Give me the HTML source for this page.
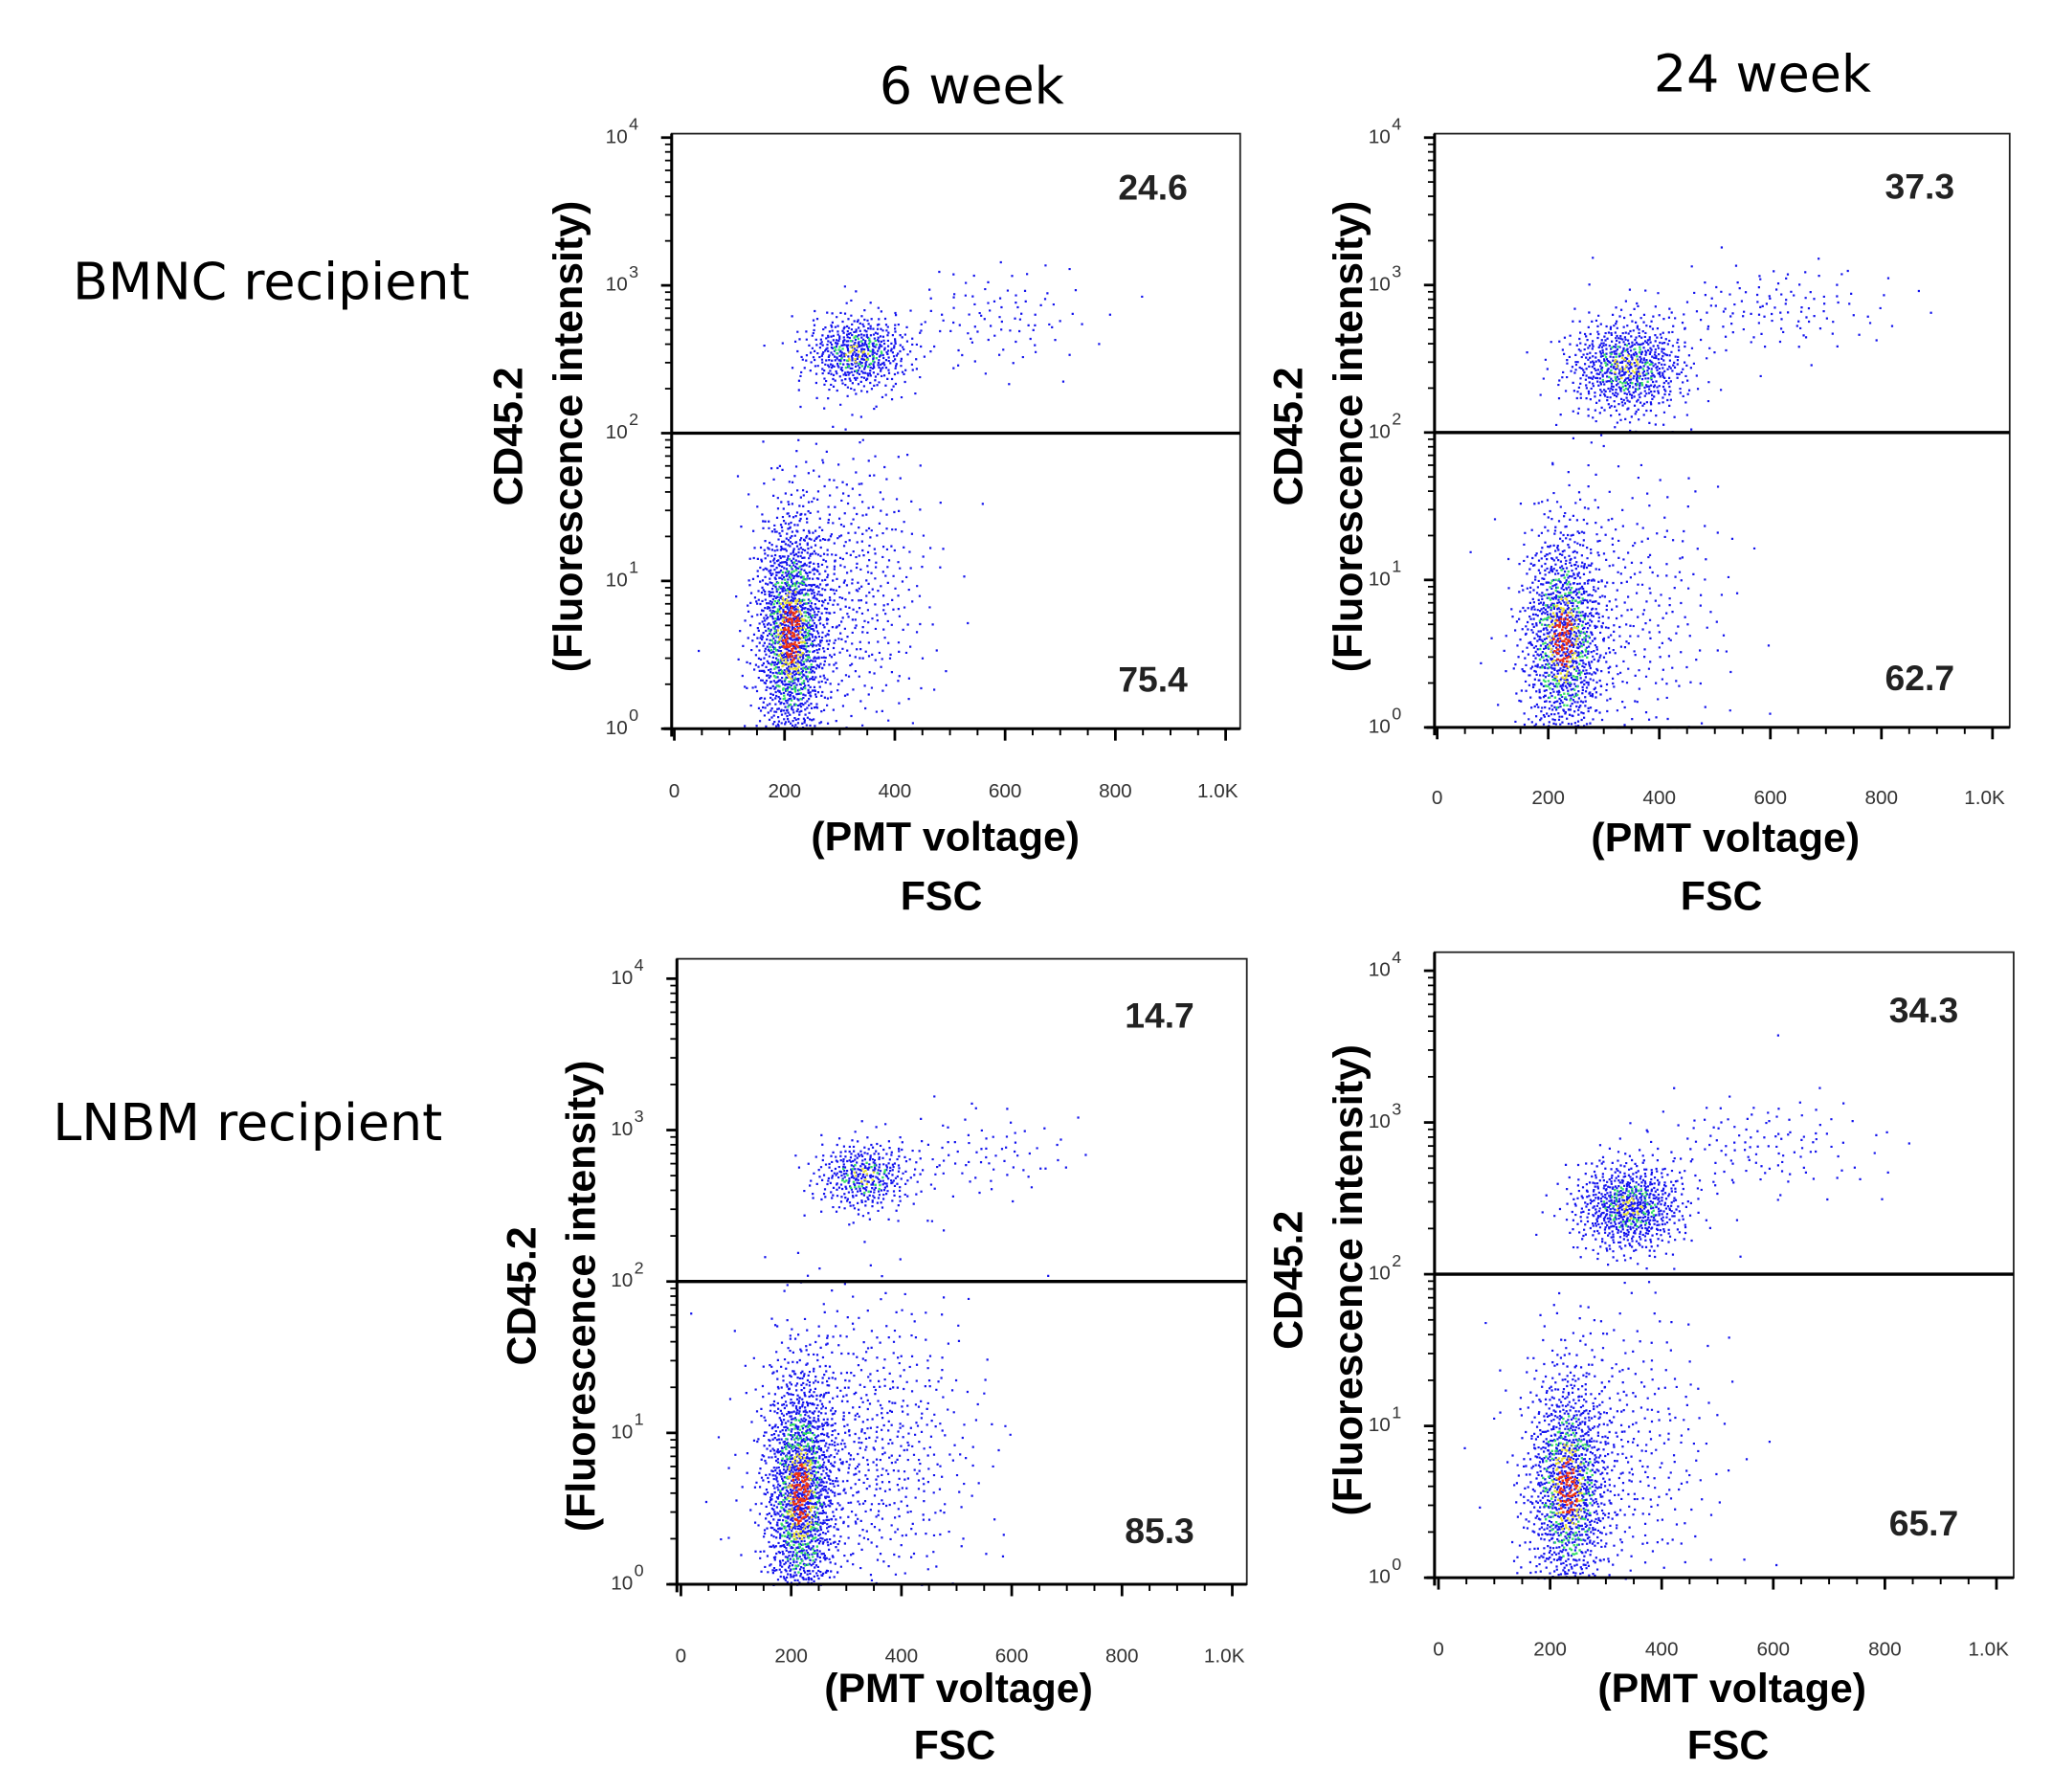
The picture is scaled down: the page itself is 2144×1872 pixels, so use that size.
<!DOCTYPE html>
<html><head><meta charset="utf-8">
<style>
html,body{margin:0;padding:0;background:#fff;}
svg{display:block;}
text{font-family:"Liberation Sans",Arial,sans-serif;}
.cal{font-family:"DejaVu Sans","Liberation Sans",sans-serif;}
</style></head>
<body>
<svg id="fig" width="2144" height="1872" viewBox="0 0 1552 1355" xmlns="http://www.w3.org/2000/svg">
  <rect x="0" y="0" width="1552" height="1355" fill="#fff"/>
  <text x="735" y="78" font-size="39" text-anchor="middle" class="cal">6 week</text>
  <text x="1333" y="69" font-size="39" text-anchor="middle" class="cal">24 week</text>
  <text x="55" y="226" font-size="39" class="cal">BMNC recipient</text>
  <text x="40" y="862" font-size="39" class="cal">LNBM recipient</text>
  <g id="panels"></g>
</svg>
<script>
// Axis ticks
const xTickValues = [0, 200, 400, 600, 800, 1000];
const xTickLabels = ["0", "200", "400", "600", "800", "1.0K"];
const yDecades = [0, 1, 2, 3, 4];
const gateValue = 100;

// Gate percentages per panel (upper, lower)
const upperPct = ["24.6", "37.3", "14.7", "34.3"];
const lowerPct = ["75.4", "62.7", "85.3", "65.7"];

// Population clusters per panel: FSC centre, FSC spread, log10 CD45.2 centre, log spread, count, heat level
const clusterPanel = [0,0,0,0, 1,1,1,1, 2,2,2,2, 3,3,3,3];
const clusterFsc   = [330,580,210,310, 340,600,225,330, 330,540,215,330, 340,570,230,320];
const clusterFscSd = [48,90,32,75, 55,110,36,95, 45,90,32,100, 50,110,36,90];
const clusterLog   = [2.55,2.78,0.65,0.95, 2.45,2.85,0.6,0.75, 2.7,2.85,0.6,0.9, 2.45,2.85,0.6,0.8];
const clusterLogSd = [0.13,0.18,0.4,0.5, 0.17,0.15,0.38,0.5, 0.12,0.15,0.42,0.5, 0.15,0.17,0.38,0.5];
const clusterCount = [550,100,1500,500, 750,130,1200,350, 380,80,1600,700, 750,130,1200,400];
const clusterHeat  = [1,0,2,0, 1,0,2,0, 1,0,2,0, 1,0,2,0];

// Layout (display coords)
const layout = [
  {l:508,r:938,t:101,b:551,y4:104,x0:510,x1k:927,tickY:598,pmtX:715,pmtY:643,fscY:688,cdX:395,flX:440,labY:330,numX:872,upY:151,loY:523},
  {l:1085,r:1520,t:101,b:550,y4:104,x0:1087,x1k:1507,tickY:603,pmtX:1305,pmtY:644,fscY:688,cdX:985,flX:1030,labY:330,numX:1452,upY:150,loY:522},
  {l:512,r:943,t:725,b:1198,y4:740,x0:515,x1k:932,tickY:1252,pmtX:725,pmtY:1287,fscY:1330,cdX:405,flX:450,labY:980,numX:877,upY:777,loY:1167},
  {l:1085,r:1523,t:720,b:1193,y4:734,x0:1088,x1k:1510,tickY:1247,pmtX:1310,pmtY:1287,fscY:1330,cdX:985,flX:1030,labY:968,numX:1455,upY:773,loY:1161}
];

const NS = "http://www.w3.org/2000/svg";
const root = document.getElementById('panels');
function mk(tag, attrs, parent){const e=document.createElementNS(NS,tag);for(const k in attrs)e.setAttribute(k,attrs[k]);parent.appendChild(e);return e;}
function halton(i,b){let f=1,r=0;while(i>0){f/=b;r+=f*(i%b);i=Math.floor(i/b);}return r;}

layout.forEach((L,p)=>{
  const g = mk('g',{},root);
  
  
  const dec = (L.b - L.y4)/4;
  const yScale = lv => L.b - lv*dec;
  const xScale = v => L.x0 + (v/1000)*(L.x1k - L.x0);

  const dots = mk('g',{},g);
  
  
  let idx = 1 + p*7919;
  const layers = [[],[],[],[]];
  clusterPanel.forEach((cp,c)=>{
    if(cp!==p) return;
    for(let i=0;i<clusterCount[c];i++){
      idx++;
      const u1 = Math.max(1e-6,halton(idx,2)), u2 = halton(idx,3), u3 = halton(idx,5);
      const rad = Math.sqrt(-2*Math.log(u1));
      const zx = rad*Math.cos(2*Math.PI*u2), zy = rad*Math.sin(2*Math.PI*u2);
      const fv = clusterFsc[c] + zx*clusterFscSd[c];
      let lv = clusterLog[c] + zy*clusterLogSd[c];
      if(lv < 0) lv = 0.005;
      const px = xScale(fv), py = yScale(lv);
      if(px < L.l+1 || px > L.r-1 || py < L.t+1) continue;
      const r2 = zx*zx+zy*zy;
      let lvl = 0;
      if(clusterHeat[c]===2){
        if(r2<0.25 && u3<0.45) lvl=3;
        else if(r2<0.6 && u3<0.35) lvl=2;
        else if(r2<1.6 && u3<0.3) lvl=1;
      } else if(clusterHeat[c]===1){
        if(r2<0.25 && u3<0.25) lvl=2;
        else if(r2<0.9 && u3<0.25) lvl=1;
      }
      layers[lvl].push(px,py);
    }
  });
  const colors = ['#1414ee','#33dd66','#e8e030','#ee3311'];
  const sizes = [1.6,1.7,1.7,1.8];
  layers.forEach((arr,lvl)=>{
    let d='';
    for(let k=0;k<arr.length;k+=2){d+='M'+arr[k].toFixed(1)+' '+arr[k+1].toFixed(1)+'h'+sizes[lvl]+'v'+sizes[lvl]+'h-'+sizes[lvl]+'z';}
    const path = mk('path',{d:d,fill:colors[lvl]},dots);
    
    
  });

  const frame = mk('rect',{x:L.l,y:L.t,width:L.r-L.l,height:L.b-L.t,fill:'none',stroke:'#222','stroke-width':1.3},g);
  
  
  const yAxis = mk('line',{x1:L.l,y1:L.t,x2:L.l,y2:L.b+6,stroke:'#000','stroke-width':2.2},g);
  
  
  const xAxis = mk('line',{x1:L.l-6,y1:L.b,x2:L.r,y2:L.b,stroke:'#000','stroke-width':2.2},g);
  
  

  const gy = yScale(Math.log10(gateValue));
  const gate = mk('line',{x1:L.l,y1:gy,x2:L.r,y2:gy,stroke:'#000','stroke-width':2.4},g);
  
  

  yDecades.forEach(dv=>{
    const y = yScale(dv);
    mk('line',{x1:L.l-8,y1:y,x2:L.l,y2:y,stroke:'#000','stroke-width':2},g);
    const t = mk('text',{x:L.l-50,y:y+4,'font-size':15,fill:'#333'},g);
    
    
    t.textContent='10';
    const s = mk('tspan',{dx:1,dy:-10,'font-size':13},t); s.textContent=String(dv);
    if(dv<4){ for(let m=2;m<=9;m++){ const ym=yScale(dv+Math.log10(m)); mk('line',{x1:L.l-5,y1:ym,x2:L.l,y2:ym,stroke:'#000','stroke-width':1.3},g);} }
  });
  for(let v=0; v<=1000; v+=50){
    const x = xScale(v), major = v%200===0;
    mk('line',{x1:x,y1:L.b,x2:x,y2:L.b+(major?9:5),stroke:'#000','stroke-width':major?2:1.4},g);
  }
  xTickValues.forEach((v,i)=>{
    const t = mk('text',{x:xScale(v)+(i===5?-6:0),y:L.tickY+5,'font-size':15,fill:'#333','text-anchor':'middle'},g);
    
    
    t.textContent = xTickLabels[i];
  });

  const up = mk('text',{x:L.numX,y:L.upY,'font-size':27,'font-weight':'bold','text-anchor':'middle',fill:'#222'},g);
  
  
  up.textContent = upperPct[p];
  const lo = mk('text',{x:L.numX,y:L.loY,'font-size':27,'font-weight':'bold','text-anchor':'middle',fill:'#222'},g);
  
  
  lo.textContent = lowerPct[p];

  const pmt = mk('text',{x:L.pmtX,y:L.pmtY,'font-size':31,'font-weight':'bold','text-anchor':'middle'},g);
  
  
  pmt.textContent='(PMT voltage)';
  const fsc = mk('text',{x:L.pmtX-3,y:L.fscY,'font-size':31,'font-weight':'bold','text-anchor':'middle'},g);
  
  
  fsc.textContent='FSC';
  const cd = mk('text',{x:L.cdX,y:L.labY,'font-size':31,'font-weight':'bold','text-anchor':'middle',transform:'rotate(-90 '+L.cdX+' '+L.labY+')'},g);
  
  
  cd.textContent='CD45.2';
  const fl = mk('text',{x:L.flX,y:L.labY,'font-size':31,'font-weight':'bold','text-anchor':'middle',transform:'rotate(-90 '+L.flX+' '+L.labY+')'},g);
  
  
  fl.textContent='(Fluorescence intensity)';
});
</script>
</body></html>
